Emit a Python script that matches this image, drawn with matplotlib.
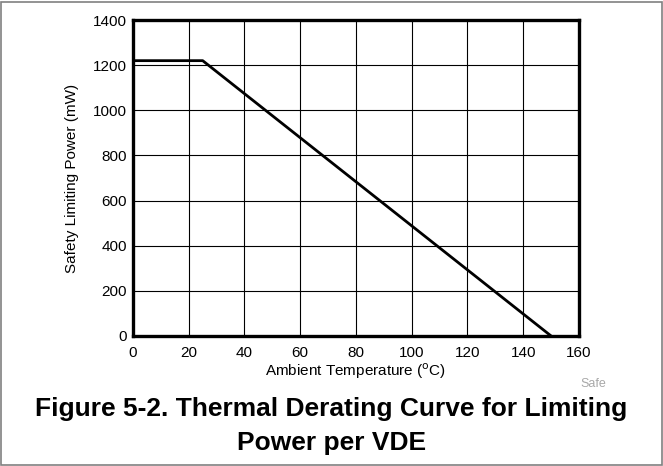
import matplotlib.pyplot as plt
from matplotlib.patches import Rectangle

plt.rcParams['font.family'] = ['Liberation Sans', 'DejaVu Sans']

# derating curve breakpoints
temp_c = [0, 25, 150]
power_mw = [1220, 1220, 0]

xticks = [0, 20, 40, 60, 80, 100, 120, 140, 160]
yticks = [0, 200, 400, 600, 800, 1000, 1200, 1400]

fig = plt.figure(figsize=(6.63, 4.66), dpi=100)
fig.patches.append(Rectangle((0.002, 0.002), 0.996, 0.994, transform=fig.transFigure,
                             fill=False, edgecolor='#808080', linewidth=1.2))

ax = fig.add_axes([0.2006, 0.279, 0.6727, 0.678])
ax.plot(temp_c, power_mw, color='black', linewidth=2, solid_capstyle='butt')
ax.set_xlim(0, 160)
ax.set_ylim(0, 1400)
ax.set_xticks(xticks)
ax.set_yticks(yticks)
ax.grid(True, color='black', linewidth=0.8)
ax.tick_params(length=0, labelsize=11)
ax.tick_params(axis='x', pad=7)
ax.tick_params(axis='y', pad=4.5)
for s in ax.spines.values():
    s.set_linewidth(2.4)

ax.set_xlabel('Ambient Temperature ($^{\\mathrm{o}}$C)', fontsize=11, labelpad=1)
ax.set_ylabel('Safety Limiting Power (mW)', fontsize=11, labelpad=10)

fig.text(0.8748, 0.1695, 'Safe', fontsize=9, color='#a8a8a8', ha='left', va='baseline')
fig.text(0.5, 0.1073, 'Figure 5-2. Thermal Derating Curve for Limiting',
         fontsize=19, fontweight='bold', ha='center', va='baseline')
fig.text(0.5, 0.0343, 'Power per VDE',
         fontsize=19, fontweight='bold', ha='center', va='baseline')

fig.savefig('out.png', dpi=100)
